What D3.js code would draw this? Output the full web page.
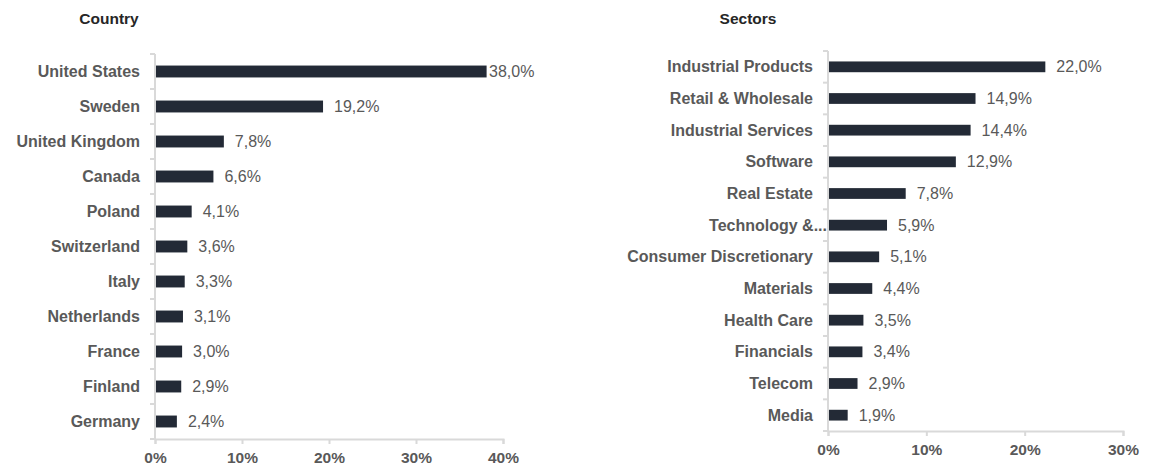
<!DOCTYPE html>
<html>
<head>
<meta charset="utf-8">
<script src="https://cdn.jsdelivr.net/npm/d3@7"></script>
<style>
  body { margin: 0; background: #fff; }
  svg { font-family: "Liberation Sans", Arial, sans-serif; }
</style>
</head>
<body>
<div id="chart"></div>
<script>
const countries = ["United States", "Sweden", "United Kingdom", "Canada", "Poland", "Switzerland",
    "Italy", "Netherlands", "France", "Finland", "Germany"];
const countryValues = [38.0, 19.2, 7.8, 6.6, 4.1, 3.6, 3.3, 3.1, 3.0, 2.9, 2.4];
const countryTicks = [0, 10, 20, 30, 40];

const sectors = ["Industrial Products", "Retail & Wholesale", "Industrial Services", "Software",
    "Real Estate", "Technology &...", "Consumer Discretionary", "Materials", "Health Care",
    "Financials", "Telecom", "Media"];
const sectorValues = [22.0, 14.9, 14.4, 12.9, 7.8, 5.9, 5.1, 4.4, 3.5, 3.4, 2.9, 1.9];
const sectorTicks = [0, 10, 20, 30];

const width = 1155;
const height = 473;
const barColor = "#232a36";
const axisColor = "#d9d9d9";
const textColor = "#595959";

const svg = d3.select("#chart")
    .append("svg")
    .attr("width", width)
    .attr("height", height);

const fmt = v => v.toFixed(1).replace(".", ",") + "%";

function drawPanel(cfg) {
    const data = cfg.cats.map((c, i) => ({ name: c, value: cfg.values[i] }));

    const x = d3.scaleLinear()
        .domain([0, d3.max(cfg.ticks)])
        .range([cfg.left, cfg.right]);

    const y = d3.scaleBand()
        .domain(cfg.cats)
        .range([cfg.top, cfg.bottom])
        .paddingInner(0.66)
        .paddingOuter(0.33);

    const g = svg.append("g");

    // title
    g.append("text")
        .attr("x", cfg.titleX)
        .attr("y", 24)
        .attr("text-anchor", "middle")
        .attr("font-size", "15.5px")
        .attr("font-weight", "bold")
        .attr("fill", "#262626")
        .text(cfg.title);

    // y axis line + ticks at category boundaries
    g.append("line")
        .attr("x1", cfg.left).attr("x2", cfg.left)
        .attr("y1", cfg.top).attr("y2", cfg.bottom)
        .attr("stroke", axisColor).attr("stroke-width", 2);

    const step = (cfg.bottom - cfg.top) / cfg.cats.length;
    g.selectAll(".ytick")
        .data(d3.range(cfg.cats.length + 1))
        .enter()
        .append("line")
        .attr("x1", cfg.left - 5).attr("x2", cfg.left)
        .attr("y1", i => cfg.top + i * step)
        .attr("y2", i => cfg.top + i * step)
        .attr("stroke", axisColor).attr("stroke-width", 2);

    // x axis
    const xAxis = g.append("g")
        .attr("transform", `translate(0,${cfg.bottom})`)
        .call(d3.axisBottom(x).tickValues(cfg.ticks).tickFormat(d => d + "%").tickSize(5).tickPadding(8));
    xAxis.select(".domain").attr("stroke", axisColor).attr("stroke-width", 2);
    xAxis.selectAll(".tick line").attr("stroke", axisColor).attr("stroke-width", 2);
    xAxis.selectAll(".tick text")
        .attr("font-family", "Liberation Sans, Arial, sans-serif")
        .attr("font-size", "15.5px")
        .attr("font-weight", "bold")
        .attr("fill", textColor);

    // bars
    g.selectAll(".bar")
        .data(data)
        .enter()
        .append("rect")
        .attr("x", x(0) + 1)
        .attr("y", d => y(d.name))
        .attr("width", d => x(d.value) - x(0))
        .attr("height", y.bandwidth())
        .attr("fill", barColor);

    // category labels
    g.selectAll(".cat")
        .data(data)
        .enter()
        .append("text")
        .attr("x", d => d.name.endsWith("...") ? cfg.left - 1 : cfg.left - 15)
        .attr("y", d => y(d.name) + y.bandwidth() / 2)
        .attr("dy", "0.35em")
        .attr("text-anchor", "end")
        .attr("font-size", "16px")
        .attr("font-weight", "bold")
        .attr("fill", textColor)
        .text(d => d.name);

    // value labels
    g.selectAll(".val")
        .data(data)
        .enter()
        .append("text")
        .attr("x", d => Math.min(x(d.value) + 12, cfg.labelMax))
        .attr("y", d => y(d.name) + y.bandwidth() / 2)
        .attr("dy", "0.35em")
        .attr("font-size", "16px")
        .attr("fill", textColor)
        .text(d => fmt(d.value));
}

drawPanel({
    title: "Country", titleX: 109,
    cats: countries, values: countryValues, ticks: countryTicks,
    left: 155, right: 503, top: 54, bottom: 439, labelMax: 489
});

drawPanel({
    title: "Sectors", titleX: 748,
    cats: sectors, values: sectorValues, ticks: sectorTicks,
    left: 828, right: 1123, top: 51, bottom: 431, labelMax: 1100
});
</script>
</body>
</html>
